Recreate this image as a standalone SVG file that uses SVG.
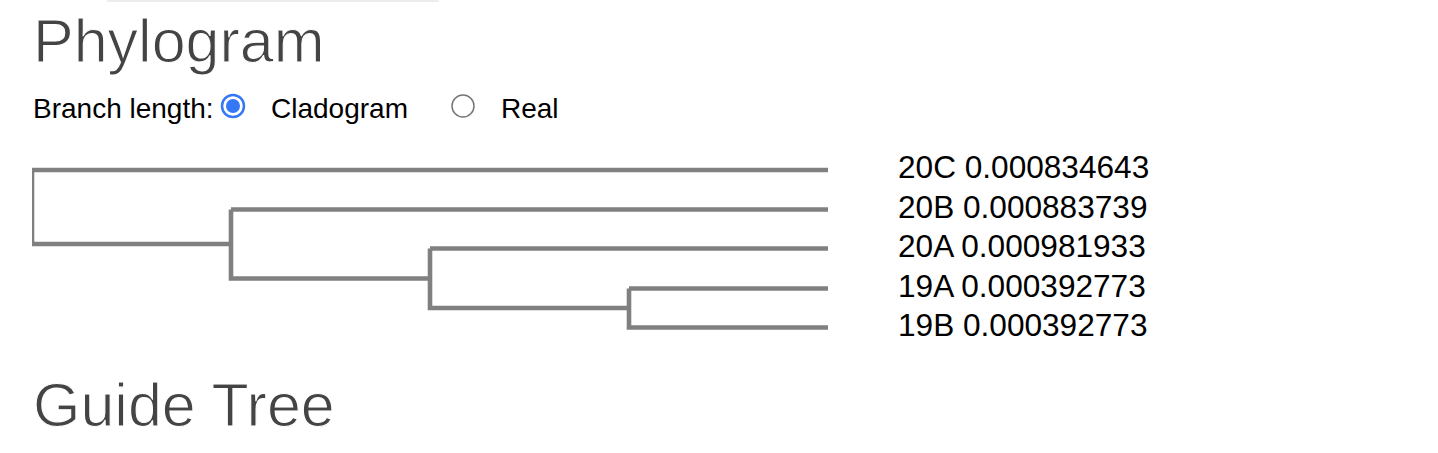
<svg xmlns="http://www.w3.org/2000/svg" width="1438" height="453" viewBox="0 0 1438 453">
  <defs>
    <style>
      .title { font-family: "Liberation Sans", Arial, sans-serif; font-size: 61px; fill: #444444; stroke: #ffffff; stroke-width: 1.1px; }
      .body { font-family: "Liberation Sans", Arial, sans-serif; font-size: 28px; fill: #000000; }
      .leaf { font-family: "Liberation Sans", Arial, sans-serif; font-size: 31.6px; fill: #000000; }
      .branch { fill: none; stroke: #808080; stroke-width: 4.6; stroke-linecap: butt; stroke-linejoin: miter; }
    </style>
    <clipPath id="treeClip">
      <rect x="32" y="140" width="820" height="210"/>
    </clipPath>
  </defs>
  <rect x="0" y="0" width="1438" height="453" fill="#ffffff"/>
  <g id="top-panel-edge">
    <line x1="108" y1="1" x2="438" y2="1" stroke="#ececec" stroke-width="2" stroke-linecap="round"/>
  </g>
  <g id="heading-phylogram">
    <text class="title" x="33" y="62">Phylogram</text>
  </g>
  <g id="branch-length-control">
    <text class="body" x="33" y="118">Branch length:</text>
    <g id="radio-cladogram">
      <circle cx="233" cy="106" r="11" fill="#ffffff" stroke="#3478f6" stroke-width="2.5"/>
      <circle cx="233" cy="106" r="7" fill="#3478f6"/>
      <text class="body" x="271" y="118">Cladogram</text>
    </g>
    <g id="radio-real">
      <circle cx="463" cy="106" r="11" fill="#ffffff" stroke="#767676" stroke-width="1.5"/>
      <text class="body" x="501" y="118">Real</text>
    </g>
  </g>
  <g id="connectors" clip-path="url(#treeClip)">
    <path class="branch" d="M32,170 H828"/>
    <path class="branch" d="M32,170 V244 H231"/>
    <path class="branch" d="M231,209.5 H828"/>
    <path class="branch" d="M231,209.5 V278.5 H430"/>
    <path class="branch" d="M430,248.5 H828"/>
    <path class="branch" d="M430,248.5 V308 H629"/>
    <path class="branch" d="M629,288.5 H828"/>
    <path class="branch" d="M629,288.5 V327.5 H828"/>
  </g>
  <g id="leaf-20C"><text class="leaf" x="898" y="178">20C 0.000834643</text></g>
  <g id="leaf-20B"><text class="leaf" x="898" y="217.5">20B 0.000883739</text></g>
  <g id="leaf-20A"><text class="leaf" x="898" y="257">20A 0.000981933</text></g>
  <g id="leaf-19A"><text class="leaf" x="898" y="296.5">19A 0.000392773</text></g>
  <g id="leaf-19B"><text class="leaf" x="898" y="336">19B 0.000392773</text></g>
  <g id="heading-guide-tree">
    <text class="title" x="33" y="426">Guide Tree</text>
  </g>
</svg>
